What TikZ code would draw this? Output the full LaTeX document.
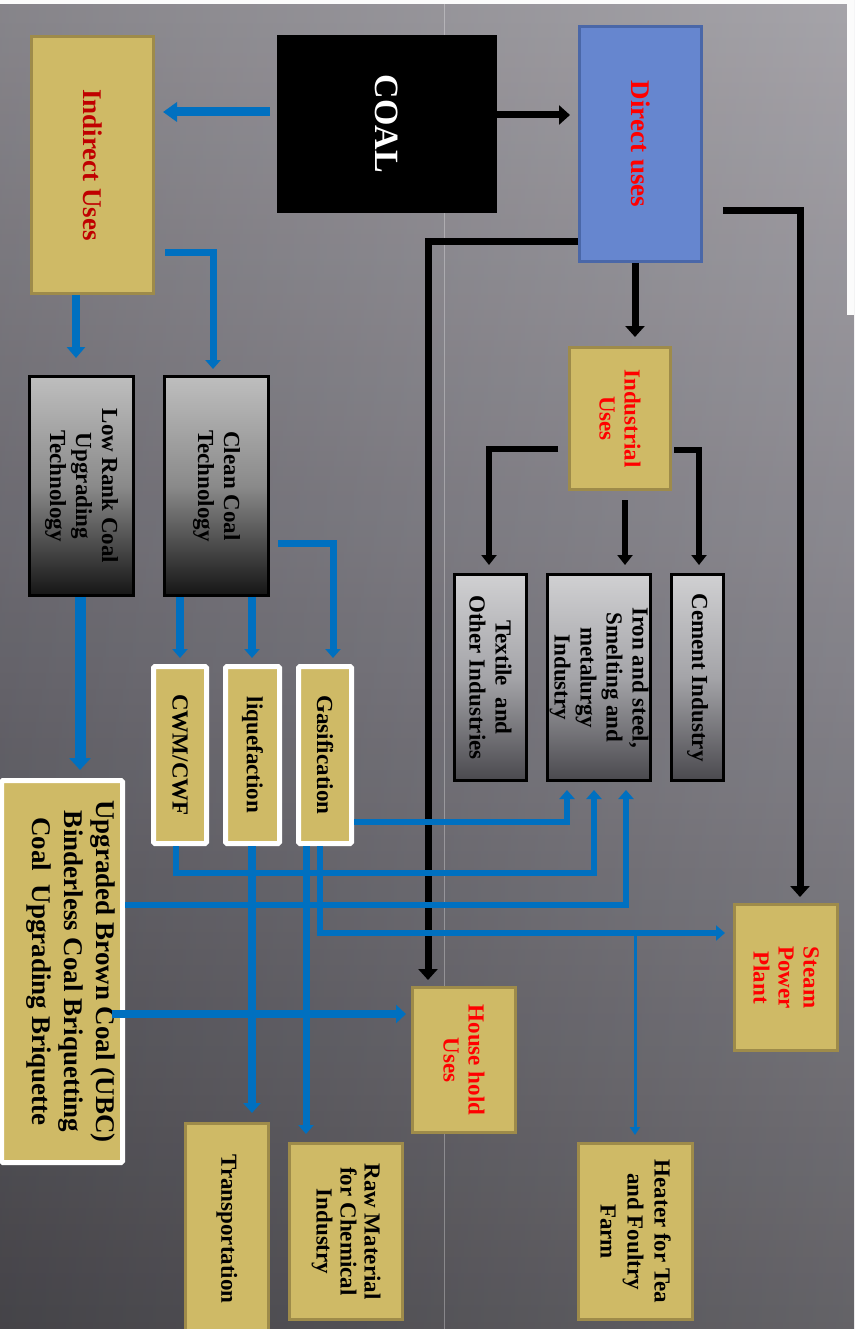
\documentclass[tikz,border=0pt]{standalone}
\usepackage{fontspec}
\setmainfont{Liberation Serif}
\usetikzlibrary{arrows.meta}
\definecolor{tanfill}{HTML}{CFBA66}
\definecolor{tanedge}{HTML}{9E8B4A}
\definecolor{arrowblue}{HTML}{0070C0}
\definecolor{directfill}{HTML}{6686CF}
\definecolor{directedge}{HTML}{4A67A8}
\definecolor{darkred}{HTML}{C00000}
\definecolor{bgtop}{HTML}{B0ADB4}
\definecolor{bgmid}{HTML}{83818A}
\definecolor{bgbot}{HTML}{5A585E}
\definecolor{gAtop}{HTML}{BEBEBE}
\definecolor{gAmid}{HTML}{8A8A8A}
\definecolor{gAbot}{HTML}{151515}
\definecolor{gBtop}{HTML}{D0D0D2}
\definecolor{gBmid}{HTML}{A4A4A8}
\definecolor{gBbot}{HTML}{4A494E}
\begin{document}
\begin{tikzpicture}[x=1pt,y=-1pt,
  tanbox/.style={draw=tanedge, fill=tanfill, line width=3pt, inner sep=0pt},
  wbox/.style={draw=white, fill=tanfill, line width=5pt, rounded corners=1.5pt, inner sep=0pt},
  gradA/.style={draw=black, line width=3pt, top color=gAtop, bottom color=gAbot, middle color=gAmid, inner sep=0pt},
  gradB/.style={draw=black, line width=3pt, top color=gBtop, bottom color=gBbot, middle color=gBmid, inner sep=0pt},
  txt/.style={rotate=-90, align=center, inner sep=0pt, text=black, font=\bfseries\fontsize{23}{26}\selectfont},
  rtxt/.style={txt, text=red, font=\bfseries\fontsize{23}{25}\selectfont},
  blk/.style={draw=black, line width=7pt, -{Triangle[width=19pt,length=11pt]}},
  blks/.style={draw=black, line width=6pt, -{Triangle[width=15pt,length=10pt]}},
  blu/.style={draw=arrowblue, line width=7pt, -{Triangle[width=15pt,length=9pt]}},
  bluthick/.style={draw=arrowblue, line width=9pt, -{Triangle[width=19pt,length=14pt]}},
  bluthin/.style={draw=arrowblue, line width=3pt, -{Triangle[width=10pt,length=8pt]}}
]
\useasboundingbox (0,0) rectangle (854,1329);
\clip (0,0) rectangle (854,1329);
% background
\fill[top color=bgtop, bottom color=bgbot, middle color=bgmid] (0,0) rectangle (854,1329);
\fill[left color=black, right color=white, opacity=0.12] (0,0) rectangle (854,1329);
\fill[white!97!gray] (0,0) rectangle (854,4);
\fill[white!97!gray] (847,4) rectangle (854,315);
\draw[white, opacity=0.3, line width=0.8pt] (444,4) -- (444,1329);

% boxes
\node[tanbox, minimum width=122pt, minimum height=257pt] (indirect) at (92.5,165) {};
\node[fill=black, inner sep=0pt, minimum width=220pt, minimum height=178pt] (coal) at (387,124) {};
\node[draw=directedge, fill=directfill, line width=3pt, inner sep=0pt, minimum width=122pt, minimum height=235pt] (direct) at (640.5,144) {};
\node[tanbox, minimum width=101pt, minimum height=142pt] (industrial) at (620,418.5) {};
\node[gradA, minimum width=104pt, minimum height=219pt] (lowrank) at (81.5,486) {};
\node[gradA, minimum width=104pt, minimum height=219pt] (clean) at (216.5,486) {};
\node[gradB, minimum width=72pt, minimum height=206pt] (textile) at (490.5,677.5) {};
\node[gradB, minimum width=103pt, minimum height=206pt] (iron) at (599,677.5) {};
\node[gradB, minimum width=52pt, minimum height=206pt] (cement) at (697.5,677.5) {};
\node[wbox, minimum width=53pt, minimum height=177pt] (cwm) at (180,755) {};
\node[wbox, minimum width=54pt, minimum height=177pt] (liq) at (252.5,755) {};
\node[wbox, minimum width=53pt, minimum height=177pt] (gas) at (325,755) {};
\node[wbox, minimum width=121pt, minimum height=382pt] (ubc) at (62,971.5) {};
\node[tanbox, minimum width=103pt, minimum height=146pt] (steam) at (786,977.5) {};
\node[tanbox, minimum width=103pt, minimum height=145pt] (household) at (464,1060) {};
\node[tanbox, minimum width=83pt, minimum height=211pt] (transport) at (227,1229) {};
\node[tanbox, minimum width=113pt, minimum height=176pt] (raw) at (346,1231.5) {};
\node[tanbox, minimum width=114pt, minimum height=176pt] (heater) at (635.5,1231.5) {};

% texts
\node[txt, text=darkred, font=\bfseries\fontsize{27}{30}\selectfont] (indirect-t) at (indirect) {Indirect Uses};
\node[txt, text=white, font=\bfseries\fontsize{34}{38}\selectfont] (coal-t) at (coal) {COAL};
\node[txt, text=red, font=\bfseries\fontsize{27}{30}\selectfont] (direct-t) at (direct) {Direct uses};
\node[rtxt] (industrial-t) at (industrial) {Industrial\\Uses};
\node[txt] (lowrank-t) at (lowrank) {Low Rank Coal\\Upgrading\\Technology};
\node[txt] (clean-t) at (clean) {Clean Coal\\Technology};
\node[txt] (textile-t) at (textile) {Textile\ \ and\\Other Industries};
\node[txt] (iron-t) at (iron) {Iron and steel,\\Smelting and\\metalurgy\\Industry};
\node[txt] (cement-t) at (cement) {Cement Industry};
\node[txt] (cwm-t) at (cwm) {CWM/CWF};
\node[txt] (liq-t) at (liq) {liquefaction};
\node[txt] (gas-t) at (gas) {Gasification};
\node[txt, font=\bfseries\fontsize{27}{32}\selectfont] (ubc-t) at ([xshift=9pt]ubc.center) {Upgraded Brown Coal (UBC)\\Binderless Coal Briquetting\\Coal\ \ Upgrading Briquette};
\node[rtxt] (steam-t) at (steam) {Steam\\Power\\Plant};
\node[rtxt] (household-t) at (household) {House hold\\Uses};
\node[txt] (transport-t) at (transport) {Transportation};
\node[txt, font=\bfseries\fontsize{23}{24}\selectfont] (raw-t) at (raw) {Raw Material\\for Chemical\\Industry};
\node[txt, font=\bfseries\fontsize{23}{27}\selectfont] (heater-t) at (heater) {Heater for Tea\\and Foultry\\Farm};

% black connectors
\draw[blk, shorten >=8pt] (coal.east |- 0,115) -- (direct.west |- 0,115);
\draw[blk, shorten >=6pt] (direct.west |- 0,242) -| (household.north -| 428,0);
\draw[blk, shorten <=20pt, shorten >=6pt] (direct.east |- 0,211) -| (steam.north -| 800,0);
\draw[blk, shorten >=9pt] (direct.south -| 635,0) -- (industrial.north -| 635,0);
\draw[blks, shorten <=10pt, shorten >=8pt] (industrial.west |- 0,449) -| (textile.north -| 489,0);
\draw[blks, shorten <=9pt, shorten >=8pt] (industrial.south -| 625,0) -- (iron.north -| 625,0);
\draw[blks, shorten <=2pt, shorten >=8pt] (industrial.east |- 0,450) -| (cement.north -| 699,0);

% blue connectors
\draw[bluthick, shorten <=7pt, shorten >=8pt] (coal.west |- 0,112) -- (indirect.east |- 0,112);
\draw[blu, line width=8pt, -{Triangle[width=18pt,length=11pt]}, shorten >=17pt] (indirect.south -| 76,0) -- (lowrank.north -| 76,0);
\draw[blu, shorten <=10pt, shorten >=6pt] (indirect.east |- 0,253) -| (clean.north -| 213,0);
\draw[blu, line width=8pt, shorten >=6pt] (clean.south -| 180,0) -- (cwm.north -| 180,0);
\draw[blu, line width=8pt, shorten >=6pt] (clean.south -| 252,0) -- (liq.north -| 252,0);
\draw[blu, shorten <=8pt, shorten >=6pt] (clean.east |- 0,543) -| (gas.north -| 333,0);
\draw[blu, line width=11pt, -{Triangle[width=21pt,length=12pt]}, shorten >=8pt] (lowrank.south -| 80,0) -- (ubc.north -| 80,0);
\draw[blu, line width=6pt, shorten >=8pt] (gas.east |- 0,822) -| (iron.south -| 567,0);
\draw[blu, line width=6pt, shorten >=8pt] (cwm.south -| 176,0) -- (176,873) -| (iron.south -| 594,0);
\draw[blu, line width=6pt, shorten >=8pt] (ubc.east |- 0,905) -| (iron.south -| 626,0);
\draw[blu, line width=6pt, shorten >=8pt] (gas.south -| 320,0) |- (steam.west |- 0,933);
\coordinate (hb) at (635,933);
\draw[bluthin, shorten >=7pt] (hb) -- (heater.north -| hb);
\draw[blu, line width=8pt, -{Triangle[width=17pt,length=10pt]}, shorten >=9pt] (liq.south -| 252,0) -- (transport.north -| 252,0);
\draw[blu, line width=7pt, shorten >=8pt] (gas.south -| 306,0) -- (raw.north -| 306,0);
\draw[blu, line width=8pt, -{Triangle[width=18pt,length=10pt]}, shorten <=-13pt, shorten >=5pt] (ubc.east |- 0,1014) -- (household.west |- 0,1014);
\end{tikzpicture}
\end{document}
